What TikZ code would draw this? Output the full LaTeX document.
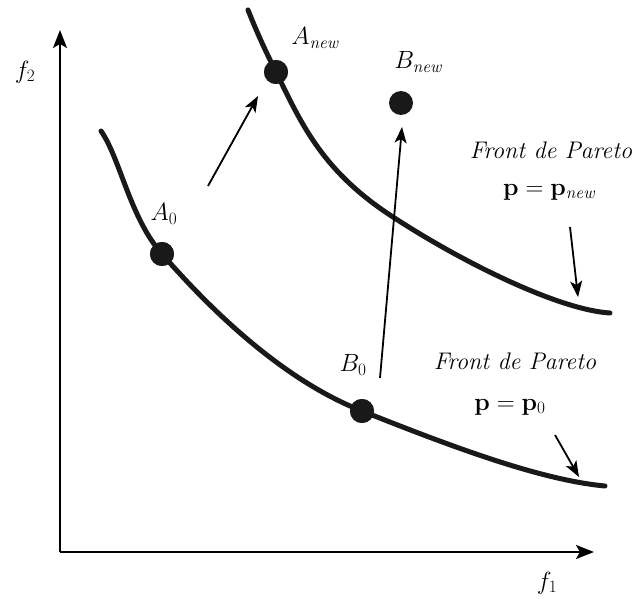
\documentclass[tikz,border=0pt]{standalone}
\usetikzlibrary{arrows.meta}
\begin{document}
\begin{tikzpicture}[x=1pt,y=-1pt,
  axis/.style={line width=2.2pt,-{Stealth[length=18pt,width=14pt,inset=4pt]}},
  mover/.style={line width=1.8pt,-{Stealth[length=16pt,width=12pt,inset=4pt]}},
  front/.style={line width=5pt,line cap=round,color=black!90},
  dot/.style={circle,fill=black!90,inner sep=0pt,minimum size=24pt},
  lbl/.style={inner sep=0pt,font=\fontsize{25}{30}\selectfont},
  flbl/.style={inner sep=0pt,font=\fontsize{24}{29}\selectfont},
]
\useasboundingbox (0,0) rectangle (635,599);
% axes
\coordinate (O) at (60,552);
\coordinate (ytip) at (60,30);
\coordinate (xtip) at (594,552);
\draw[axis] (O) -- (ytip);
\draw[axis] (O) -- (xtip);
\node[lbl] (f2) at (25,72) {$f_2$};
\node[lbl] (f1) at (547,583) {$f_1$};
% points
\coordinate (s0) at (101,131);
\coordinate (e0) at (605,486);
\coordinate (s1) at (248,10);
\coordinate (m1) at (393,217);
\coordinate (e1) at (610,313);
\node[dot] (A0) at (162,254) {};
\node[dot] (B0) at (362,411) {};
\node[dot] (Anew) at (276,72) {};
\node[dot] (Bnew) at (401,103) {};
% fronts
\draw[front] (s0) .. controls (120,158) and (130,218) .. (A0.center)
  .. controls (192,288) and (270,375) .. (B0.center)
  .. controls (450,446) and (540,480) .. (e0);
\draw[front] (s1) .. controls (258,35) and (266,52) .. (Anew.center)
  .. controls (300,120) and (320,170) .. (m1)
  .. controls (465,264) and (560,310) .. (e1);
% redraw dots on top
\fill[black!90] (A0) circle (12pt) (B0) circle (12pt) (Anew) circle (12pt);
\node[lbl] (lA0) at (164,214) {$A_0$};
\node[lbl] (lB0) at (353,365) {$B_0$};
\node[lbl] (lAnew) at (316,38) {$A_{\mathit{new}}$};
\node[lbl] (lBnew) at (419,62) {$B_{\mathit{new}}$};
% move arrows
\coordinate (a1) at (208,186);
\coordinate (a2) at (258,96);
\coordinate (b1) at (380,378);
\coordinate (b2) at (402,127);
\draw[mover] (a1) -- (a2);
\draw[mover] (b1) -- (b2);
% front labels
\node[flbl] (fnew) at (551,150) {\itshape Front de Pareto};
\node[lbl] (pnew) at (550,192) {$\mathbf{p} = \mathbf{p}_{\mathit{new}}$};
\node[flbl] (f0) at (515,361) {\itshape Front de Pareto};
\node[lbl] (p0) at (510,407) {$\mathbf{p} = \mathbf{p}_0$};
\coordinate (c1) at (570,227);
\coordinate (c2) at (578,297);
\coordinate (d1) at (555,435);
\coordinate (d2) at (579,477);
\draw[mover] (c1) -- (c2);
\draw[mover] (d1) -- (d2);
\end{tikzpicture}
\end{document}
